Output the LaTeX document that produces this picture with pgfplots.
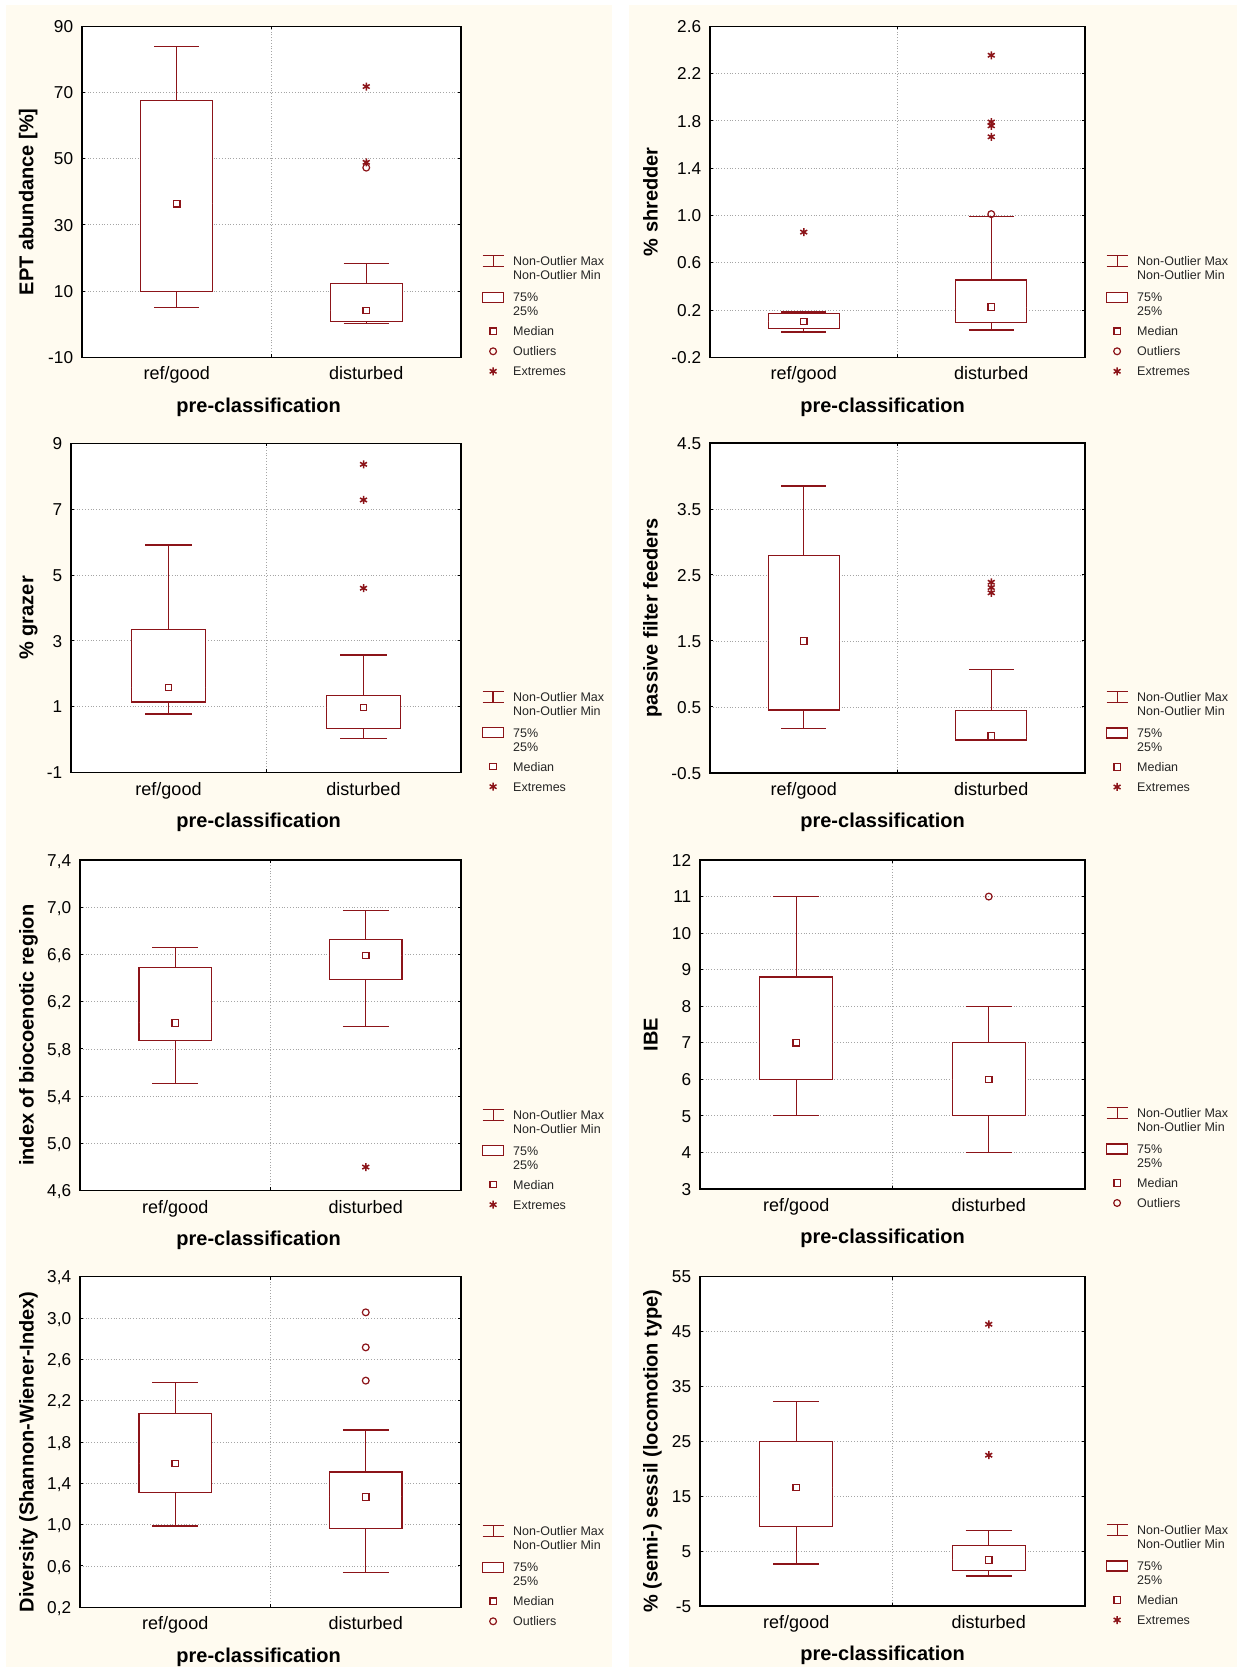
\documentclass[border=0pt]{standalone}
\usepackage{fontspec}
\setmainfont{Liberation Sans}
\usepackage{pgfplots}
\pgfplotsset{compat=1.18}
\usepgfplotslibrary{statistics}
\definecolor{boxred}{RGB}{140,20,25}
\definecolor{cream}{RGB}{255,251,240}
\definecolor{gridgray}{RGB}{165,165,165}

\pgfplotsset{
  leg five/.style={legend image code/.code={
    \path[draw=none,fill=none] (0pt,-60pt) rectangle (10.5pt,60pt);
    \draw[boxred,line width=0.6pt,fill=none] (0pt,-0.51pt) -- (10.5pt,-0.51pt) (0pt,4.99pt) -- (10.5pt,4.99pt) (5.25pt,-0.51pt) -- (5.25pt,4.99pt);
    \draw[boxred,line width=0.6pt,fill=white] (0pt,-18.26pt) rectangle (10.5pt,-13.26pt);
    \draw[boxred,line width=0.6pt,fill=white] (3.65pt,-34.36pt) rectangle (6.85pt,-31.16pt);
    \draw[boxred,line width=0.6pt,fill=none] (5.25pt,-42.76pt) circle (1.7pt);
    \draw[boxred,line width=0.75pt,fill=none] plot[mark=asterisk, mark size=2pt] coordinates {(5.25pt,-52.76pt)};}},
  leg fourE/.style={legend image code/.code={
    \path[draw=none,fill=none] (0pt,-60pt) rectangle (10.5pt,60pt);
    \draw[boxred,line width=0.6pt,fill=none] (0pt,-0.51pt) -- (10.5pt,-0.51pt) (0pt,4.99pt) -- (10.5pt,4.99pt) (5.25pt,-0.51pt) -- (5.25pt,4.99pt);
    \draw[boxred,line width=0.6pt,fill=white] (0pt,-18.26pt) rectangle (10.5pt,-13.26pt);
    \draw[boxred,line width=0.6pt,fill=white] (3.65pt,-34.36pt) rectangle (6.85pt,-31.16pt);
    \draw[boxred,line width=0.75pt,fill=none] plot[mark=asterisk, mark size=2pt] coordinates {(5.25pt,-42.76pt)};}},
  leg fourO/.style={legend image code/.code={
    \path[draw=none,fill=none] (0pt,-60pt) rectangle (10.5pt,60pt);
    \draw[boxred,line width=0.6pt,fill=none] (0pt,-0.51pt) -- (10.5pt,-0.51pt) (0pt,4.99pt) -- (10.5pt,4.99pt) (5.25pt,-0.51pt) -- (5.25pt,4.99pt);
    \draw[boxred,line width=0.6pt,fill=white] (0pt,-18.26pt) rectangle (10.5pt,-13.26pt);
    \draw[boxred,line width=0.6pt,fill=white] (3.65pt,-34.36pt) rectangle (6.85pt,-31.16pt);
    \draw[boxred,line width=0.6pt,fill=none] (5.25pt,-42.76pt) circle (1.7pt);}},
  panel/.style={
    scale only axis, anchor=south west,
    axis background/.style={fill=white},
    axis line style={black, line width=0.65pt},
    xmin=0.5, xmax=2.5,
    xtick={1.5}, xticklabels={{}},
    extra x ticks={1,2}, extra x tick labels={ref/good,disturbed},
    extra x tick style={grid=none, tick style={draw=none}},
    xmajorgrids, ymajorgrids,
    grid style={densely dotted, gridgray, line width=0.45pt},
    tick align=inside, major tick length=1.6pt,
    tick style={black, line width=0.5pt},
    yticklabel style={font=\fontsize{8.6}{10}\selectfont, anchor=base east, inner sep=0pt, xshift=-4.25pt, yshift=-3.08pt},
    xticklabel style={font=\fontsize{9}{10}\selectfont, anchor=base, inner sep=0pt, yshift=-11.25pt},
    xlabel={pre-classification},
    label style={font=\bfseries\fontsize{10}{12}\selectfont},
    xlabel style={anchor=base, yshift=-27.4pt},
    ylabel style={anchor=base},
    legend style={at={(1,0)}, anchor=south west, xshift=10.5pt, yshift=-14.24pt, inner sep=0pt, outer sep=0pt, draw=none, fill=none, row sep=0pt, column sep=4.5pt, font=\fontsize{6.25}{7}\selectfont, text=black!85, cells={anchor=base west}, nodes={inner sep=0pt}},
  },
  four/.style={legend style={yshift=-10pt}},
  bx/.style={boxred, line width=0.6pt, fill=white, forget plot, boxplot/draw direction=y, boxplot/every median/.style={draw=none}},
  med/.style={boxred, only marks, mark=square, mark size=1.6pt, mark options={line width=0.6pt, fill=white, solid}, forget plot},
  outl/.style={boxred, only marks, mark=o, mark size=1.7pt, mark options={line width=0.6pt, solid}, forget plot},
  extr/.style={boxred, only marks, mark=asterisk, mark size=2pt, mark options={line width=0.75pt, solid}, forget plot},
}

\newcommand{\bp}[6]{\addplot[bx, boxplot prepared={draw position=#1, lower whisker=#2, lower quartile=#3, median=#4, upper quartile=#5, upper whisker=#6, box extend=0.38, whisker extend=0.24}] coordinates {};}
\newcommand{\legtext}[1]{\raisebox{0pt}[31pt][31pt]{\begin{tabular}[t]{@{}l@{}}Non-Outlier Max\\Non-Outlier Min\\\rule{0pt}{8.9pt}75\%\\25\%\\\rule{0pt}{7.9pt}Median#1\end{tabular}}}
\newcommand{\legFive}{\addlegendimage{leg five}\addlegendentry{\legtext{\\\rule{0pt}{7.9pt}Outliers\\\rule{0pt}{7.9pt}Extremes}}}
\newcommand{\legFourE}{\addlegendimage{leg fourE}\addlegendentry{\legtext{\\\rule{0pt}{7.9pt}Extremes}}}
\newcommand{\legFourO}{\addlegendimage{leg fourO}\addlegendentry{\legtext{\\\rule{0pt}{7.9pt}Outliers}}}

\begin{document}
\begin{tikzpicture}
\useasboundingbox (0pt,0pt) rectangle (618.5pt,833.5pt);
\fill[white] (0pt,0pt) rectangle (618.5pt,833.5pt);
\fill[cream] (3pt,0pt) rectangle (305.85pt,831pt);
\fill[cream] (314.5pt,0pt) rectangle (618.5pt,831pt);

% 1 EPT abundance
\begin{axis}[panel, at={(41pt,654.85pt)}, width=189.5pt, height=165.5pt,
  ymin=-10, ymax=90, ytick={-10,10,30,50,70,90}, yticklabels={-10,10,30,50,70,90},
  ylabel={EPT abundance [\%]}, ylabel style={at={(axis description cs:-0.128,0.47)}},
  xlabel style={at={(axis description cs:0.4662,0)}}]
\bp{1}{5.1}{9.9}{36.4}{67.7}{83.8}
\bp{2}{0.2}{0.9}{4.1}{12.4}{18.4}
\addplot[med] coordinates {(1,36.4) (2,4.1)};
\addplot[outl] coordinates {(2,47.3)};
\addplot[extr] coordinates {(2,71.8) (2,48.9)};
\legFive
\end{axis}

% 2 shredder
\begin{axis}[panel, at={(355pt,654.85pt)}, width=187.5pt, height=165.5pt,
  ymin=-0.2, ymax=2.6, ytick={-0.2,0.2,0.6,1.0,1.4,1.8,2.2,2.6}, yticklabels={-0.2,0.2,0.6,1.0,1.4,1.8,2.2,2.6},
  ylabel={\% shredder}, ylabel style={at={(axis description cs:-0.14,0.47)}},
  xlabel style={at={(axis description cs:0.4603,0)}}]
\bp{1}{0.014}{0.045}{0.104}{0.172}{0.183}
\bp{2}{0.031}{0.096}{0.225}{0.454}{0.994}
\addplot[med] coordinates {(1,0.104) (2,0.225)};
\addplot[outl] coordinates {(2,1.011)};
\addplot[extr] coordinates {(1,0.859) (2,2.355) (2,1.79) (2,1.758) (2,1.665)};
\legFive
\end{axis}

% 3 grazer
\begin{axis}[panel, four, at={(35.5pt,447.15pt)}, width=195pt, height=164.7pt,
  ymin=-1, ymax=9, ytick={-1,1,3,5,7,9}, yticklabels={-1,1,3,5,7,9},
  ylabel={\% grazer}, ylabel style={at={(axis description cs:-0.0962,0.47)}},
  xlabel style={at={(axis description cs:0.4813,0)}}]
\bp{1}{0.78}{1.146}{1.59}{3.34}{5.91}
\bp{2}{0.03}{0.35}{0.98}{1.34}{2.57}
\addplot[med] coordinates {(1,1.59) (2,0.98)};
\addplot[extr] coordinates {(2,8.36) (2,7.28) (2,4.6)};
\legFourE
\end{axis}

% 4 passive filter feeders
\begin{axis}[panel, four, at={(355pt,447pt)}, width=187.5pt, height=165pt,
  ymin=-0.5, ymax=4.5, ytick={-0.5,0.5,1.5,2.5,3.5,4.5}, yticklabels={-0.5,0.5,1.5,2.5,3.5,4.5},
  ylabel={passive filter feeders}, ylabel style={at={(axis description cs:-0.14,0.47)}},
  xlabel style={at={(axis description cs:0.4603,0)}}]
\bp{1}{0.17}{0.455}{1.50}{2.79}{3.85}
\bp{2}{-0.01}{0.0}{0.06}{0.45}{1.07}
\addplot[med] coordinates {(1,1.50) (2,0.06)};
\addplot[extr] coordinates {(2,2.39) (2,2.31) (2,2.23)};
\legFourE
\end{axis}

% 5 index of biocoenotic region
\begin{axis}[panel, four, at={(40pt,238.15pt)}, width=190.5pt, height=165.35pt,
  ymin=4.6, ymax=7.4, ytick={4.6,5.0,5.4,5.8,6.2,6.6,7.0,7.4}, yticklabels={{4,6},{5,0},{5,4},{5,8},{6,2},{6,6},{7,0},{7,4}},
  ylabel={index of biocoenotic region}, ylabel style={at={(axis description cs:-0.122,0.47)}},
  xlabel style={at={(axis description cs:0.469,0)}}]
\bp{1}{5.51}{5.87}{6.02}{6.49}{6.66}
\bp{2}{5.99}{6.39}{6.59}{6.73}{6.97}
\addplot[med] coordinates {(1,6.02) (2,6.59)};
\addplot[extr] coordinates {(2,4.80)};
\legFourE
\end{axis}

% 6 IBE
\begin{axis}[panel, four, at={(350pt,239pt)}, width=192.5pt, height=164.5pt,
  ymin=3, ymax=12, ytick={3,4,5,6,7,8,9,10,11,12}, yticklabels={3,4,5,6,7,8,9,10,11,12},
  ylabel={IBE}, ylabel style={at={(axis description cs:-0.1104,0.47)}},
  xlabel style={at={(axis description cs:0.4743,0)}}]
\bp{1}{5}{6}{7}{8.8}{11}
\bp{2}{4}{5}{6}{7}{8}
\addplot[med] coordinates {(1,7) (2,6)};
\addplot[outl] coordinates {(2,11)};
\legFourO
\end{axis}

% 7 Diversity
\begin{axis}[panel, four, at={(40pt,29.85pt)}, width=190.5pt, height=165.3pt,
  ymin=0.2, ymax=3.4, ytick={0.2,0.6,1.0,1.4,1.8,2.2,2.6,3.0,3.4}, yticklabels={{0,2},{0,6},{1,0},{1,4},{1,8},{2,2},{2,6},{3,0},{3,4}},
  ylabel={Diversity (Shannon-Wiener-Index)}, ylabel style={at={(axis description cs:-0.122,0.47)}},
  xlabel style={at={(axis description cs:0.469,0)}}]
\bp{1}{0.987}{1.313}{1.59}{2.077}{2.374}
\bp{2}{0.535}{0.965}{1.268}{1.51}{1.916}
\addplot[med] coordinates {(1,1.59) (2,1.268)};
\addplot[outl] coordinates {(2,3.055) (2,2.716) (2,2.394)};
\legFourO
\end{axis}

% 8 sessil
\begin{axis}[panel, four, at={(350pt,30.5pt)}, width=192.5pt, height=164.75pt,
  ymin=-5, ymax=55, ytick={-5,5,15,25,35,45,55}, yticklabels={-5,5,15,25,35,45,55},
  ylabel={\% (semi-) sessil (locomotion type)}, ylabel style={at={(axis description cs:-0.1104,0.47)}},
  xlabel style={at={(axis description cs:0.4743,0)}}]
\bp{1}{2.66}{9.5}{16.6}{25.0}{32.2}
\bp{2}{0.48}{1.45}{3.39}{6.06}{8.73}
\addplot[med] coordinates {(1,16.6) (2,3.39)};
\addplot[extr] coordinates {(2,46.3) (2,22.46)};
\legFourE
\end{axis}
\end{tikzpicture}
\end{document}
